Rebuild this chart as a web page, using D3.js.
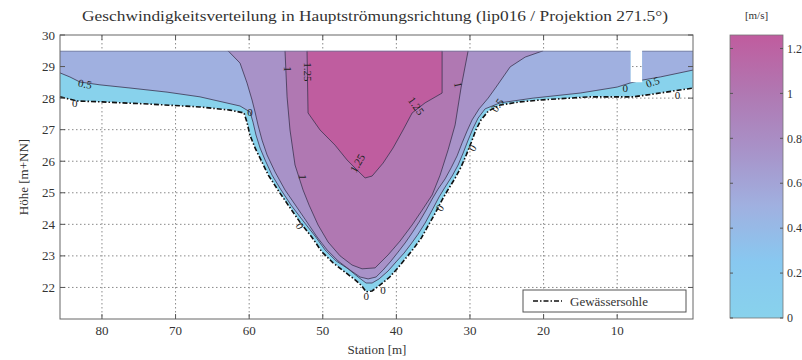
<!DOCTYPE html>
<html lang="de">
<head>
<meta charset="UTF-8">
<title>Geschwindigkeitsverteilung</title>
<style>
  body { margin: 0; background: #fff; }
  svg text { font-family: "Liberation Serif", "Times New Roman", serif; fill: #333; }
</style>
</head>
<body>
<svg id="chart" width="802" height="360" font-family="Liberation Serif, serif"></svg>
<script src="https://d3js.org/d3.v7.min.js"></script>
<script>
const title = "Geschwindigkeitsverteilung in Hauptströmungsrichtung (lip016 / Projektion 271.5°)";
const xTicks = [80, 70, 60, 50, 40, 30, 20, 10];
const yTicks = [22, 23, 24, 25, 26, 27, 28, 29, 30];
const waterLevel = 29.5;
const gapStations = [8.2, 6.6];
const gapBottom = 28.5;

// Gewässersohle [station, höhe]
const bed = [
  [85.7, 28.04], [83.4, 27.91], [80.0, 27.88], [73.5, 27.81], [66.7, 27.72], [62.6, 27.62],
  [60.7, 27.53], [60.3, 27.24], [59.9, 26.83], [59.2, 26.42], [58.4, 26.04], [57.4, 25.56],
  [56.1, 25.09], [54.7, 24.61], [53.1, 24.07], [51.5, 23.60], [50.1, 23.12], [48.6, 22.78],
  [47.0, 22.49], [45.6, 22.24], [44.7, 22.05], [44.1, 21.86], [43.3, 21.89], [42.2, 22.08],
  [40.9, 22.33], [39.8, 22.62], [38.7, 22.93], [37.6, 23.25], [36.6, 23.57], [35.7, 23.95],
  [34.7, 24.36], [33.8, 24.77], [33.0, 25.09], [32.0, 25.47], [31.2, 25.82], [30.5, 26.20],
  [29.8, 26.61], [29.2, 26.99], [28.5, 27.31], [27.5, 27.59], [25.9, 27.78], [23.2, 27.88],
  [20.5, 27.94], [13.7, 28.04], [7.8, 28.04], [4.2, 28.16], [-0.3, 28.32]
];

// Isolinien (0.5, 0.75, 1.0, 1.25 m/s)
const c050 = [
  [85.71, 28.80], [84.35, 28.67], [82.99, 28.51], [80.27, 28.42], [76.19, 28.32], [71.16, 28.19],
  [66.68, 28.04], [61.24, 27.75], [59.88, 27.56], [59.48, 27.24], [59.07, 26.83], [58.52, 26.42],
  [57.84, 26.04], [56.89, 25.56], [55.67, 25.09], [54.31, 24.61], [52.68, 24.11], [51.05, 23.63],
  [49.69, 23.19], [48.19, 22.84], [46.56, 22.59], [45.20, 22.33], [44.12, 22.14], [43.30, 22.14],
  [42.35, 22.27], [41.13, 22.52], [40.04, 22.81], [38.95, 23.09], [38.00, 23.38], [37.05, 23.69],
  [36.10, 24.04], [35.14, 24.45], [34.19, 24.87], [33.38, 25.18], [32.43, 25.53], [31.61, 25.88],
  [30.93, 26.26], [30.25, 26.67], [29.57, 27.05], [28.89, 27.37], [27.94, 27.66], [25.90, 27.85],
  [21.42, 28.00], [15.03, 28.16], [10.00, 28.35], [8.23, 28.48], [6.60, 28.57], [4.15, 28.67],
  [-0.33, 28.89]
];
const c075 = [
  [62.87, 29.50], [61.24, 29.11], [60.29, 28.48], [59.61, 27.94], [59.20, 27.56], [58.80, 27.15],
  [58.25, 26.67], [57.57, 26.20], [56.48, 25.66], [55.13, 25.09], [53.63, 24.58], [52.14, 24.07],
  [50.78, 23.60], [49.42, 23.19], [47.92, 22.84], [46.29, 22.55], [44.93, 22.33], [43.84, 22.27],
  [42.76, 22.33], [41.81, 22.55], [40.72, 22.84], [39.77, 23.12], [38.81, 23.41], [37.86, 23.73],
  [36.91, 24.07], [35.96, 24.45], [35.14, 24.80], [34.33, 25.12], [33.38, 25.44], [32.56, 25.79],
  [31.75, 26.17], [31.07, 26.58], [30.39, 26.96], [29.71, 27.31], [28.76, 27.66], [27.53, 28.00],
  [26.45, 28.35], [24.54, 28.99], [22.50, 29.30], [20.06, 29.50]
];
const c100 = [
  [55.13, 29.50], [54.85, 28.04], [54.45, 26.99], [53.77, 25.88], [52.68, 25.09], [51.86, 24.61],
  [50.64, 23.98], [49.28, 23.44], [47.65, 23.00], [46.02, 22.71], [44.66, 22.59], [42.89, 22.62],
  [41.13, 23.03], [39.50, 23.47], [37.86, 23.98], [36.50, 24.45], [35.14, 24.93], [34.06, 25.56],
  [32.97, 26.36], [32.02, 27.15], [31.20, 28.35], [30.25, 29.50]
];
const c125 = [
  [52.14, 29.50], [52.00, 27.53], [50.37, 26.99], [48.33, 26.51], [46.70, 26.04], [45.34, 25.72],
  [44.25, 25.47], [43.30, 25.53], [41.81, 25.94], [40.45, 26.42], [39.09, 26.99], [37.86, 27.53],
  [36.10, 27.85], [33.79, 28.16], [33.79, 29.50]
];

const levels = [0, 0.5, 0.75, 1.0, 1.25];
const contours = [c050, c075, c100, c125];

// Farbskala
const colorValues = [0, 0.25, 0.5, 0.75, 1.0, 1.26];
const colorHex = ["#88d2ec", "#88c8f0", "#a0b0e0", "#a892c8", "#b078b2", "#c05c9e"];
const cbarTicks = [0, 0.2, 0.4, 0.6, 0.8, 1, 1.2];
const cbarMax = 1.26;

// Beschriftungen der Isolinien: [text, station, höhe, winkel]
const contourLabels = [
  ["0.5", 82.3, 28.45, 10], ["0", 83.7, 27.85, 0],
  ["1", 54.7, 28.92, 90], ["1.25", 52.0, 28.83, 90], ["1", 52.7, 25.5, 90],
  ["1.25", 45.3, 25.94, -60], ["1.25", 37.3, 27.75, 55], ["1", 31.6, 28.42, 80],
  ["0.5", 26.3, 27.78, -55], ["0", 8.9, 28.32, 0], ["0.5", 5.2, 28.51, -20], ["0", 1.8, 28.1, 0],
  ["0", 59.9, 27.56, 0], ["0", 53.1, 23.95, 60], ["0", 44.1, 21.73, 0], ["0", 41.8, 21.92, 0],
  ["0", 34.1, 24.52, -60], ["0", 29.7, 26.42, -60]
];

const svg = d3.select("#chart");
const margin = { left: 60, right: 693, top: 35, bottom: 319 };

const x = d3.scaleLinear().domain([85.7, -0.3]).range([margin.left, margin.right]);
const y = d3.scaleLinear().domain([21, 30]).range([margin.bottom, margin.top]);
const color = d3.scaleLinear().domain(colorValues).range(colorHex);

const line = d3.line().x(d => x(d[0])).y(d => y(d[1]));

// Gitter
const grid = svg.append("g").attr("stroke", "#8a8a8a").attr("stroke-dasharray", "1.5,2.5").attr("stroke-width", 1);
grid.selectAll(".gx").data(xTicks).enter().append("line")
  .attr("x1", d => x(d)).attr("x2", d => x(d)).attr("y1", margin.top).attr("y2", margin.bottom);
grid.selectAll(".gy").data(yTicks.filter(d => d < 30)).enter().append("line")
  .attr("y1", d => y(d)).attr("y2", d => y(d)).attr("x1", margin.left).attr("x2", margin.right);

// Nasser Querschnitt als Clip
const wetted = bed.concat([[bed[bed.length - 1][0], waterLevel], [bed[0][0], waterLevel]]);
const gapRect = [[gapStations[0], waterLevel], [gapStations[1], waterLevel], [gapStations[1], gapBottom], [gapStations[0], gapBottom]];
svg.append("clipPath").attr("id", "wet")
  .append("path")
  .attr("clip-rule", "evenodd")
  .attr("d", line(wetted) + "Z" + line(gapRect) + "Z");

const fills = svg.append("g").attr("clip-path", "url(#wet)");
fills.append("path").attr("d", line(wetted) + "Z").attr("fill", color(levels[0]));

contours.forEach((c, i) => {
  const poly = c.concat([[c[c.length - 1][0], waterLevel], [c[0][0], waterLevel]]);
  fills.append("path").attr("d", line(poly) + "Z").attr("fill", color(levels[i + 1]));
});
contours.forEach(c => {
  fills.append("path").attr("d", line(c)).attr("fill", "none")
    .attr("stroke", "#3c3350").attr("stroke-width", 0.8);
});
// Wasserspiegel-Kante
fills.append("path").attr("d", line([[bed[0][0], waterLevel], [bed[bed.length - 1][0], waterLevel]]))
  .attr("stroke", "#6a7090").attr("stroke-width", 1.2);

// Sohle
svg.append("path").attr("d", line(bed)).attr("fill", "none")
  .attr("stroke", "#111").attr("stroke-width", 1.6).attr("stroke-dasharray", "5,2,1.5,2");

// Beschriftungen der Isolinien
svg.append("g").selectAll("text").data(contourLabels).enter().append("text")
  .attr("transform", d => `translate(${x(d[1])},${y(d[2])}) rotate(${d[3]})`)
  .attr("text-anchor", "middle").attr("dy", "0.35em")
  .style("font-size", "11px").style("fill", "#222")
  .text(d => d[0]);

// Rahmen und Ticks
svg.append("rect").attr("x", margin.left).attr("y", margin.top)
  .attr("width", margin.right - margin.left).attr("height", margin.bottom - margin.top)
  .attr("fill", "none").attr("stroke", "#666").attr("stroke-width", 1);

const ticks = svg.append("g").attr("stroke", "#555").attr("stroke-width", 1);
xTicks.forEach(t => {
  ticks.append("line").attr("x1", x(t)).attr("x2", x(t)).attr("y1", margin.bottom).attr("y2", margin.bottom - 5);
  ticks.append("line").attr("x1", x(t)).attr("x2", x(t)).attr("y1", margin.top).attr("y2", margin.top + 5);
});
yTicks.forEach(t => {
  ticks.append("line").attr("y1", y(t)).attr("y2", y(t)).attr("x1", margin.left).attr("x2", margin.left + 5);
  ticks.append("line").attr("y1", y(t)).attr("y2", y(t)).attr("x1", margin.right).attr("x2", margin.right - 5);
});

svg.append("g").selectAll("text").data(xTicks).enter().append("text")
  .attr("x", d => x(d)).attr("y", margin.bottom + 16)
  .attr("text-anchor", "middle").style("font-size", "13px").text(d => d);
svg.append("g").selectAll("text").data(yTicks).enter().append("text")
  .attr("x", margin.left - 5).attr("y", d => y(d)).attr("dy", "0.35em")
  .attr("text-anchor", "end").style("font-size", "13px").text(d => d);

svg.append("text").attr("x", 377).attr("y", 354).attr("text-anchor", "middle")
  .style("font-size", "13px").text("Station [m]");
svg.append("text").attr("transform", "translate(28,177) rotate(-90)").attr("text-anchor", "middle")
  .style("font-size", "13px").text("Höhe [m+NN]");
svg.append("text").attr("x", 375).attr("y", 21).attr("text-anchor", "middle")
  .attr("textLength", 586).attr("lengthAdjust", "spacingAndGlyphs")
  .style("font-size", "14px").text(title);

// Legende
const lg = svg.append("g");
lg.append("rect").attr("x", 523).attr("y", 290).attr("width", 163).attr("height", 22)
  .attr("fill", "#fff").attr("stroke", "#555");
lg.append("line").attr("x1", 533).attr("x2", 562).attr("y1", 301).attr("y2", 301)
  .attr("stroke", "#111").attr("stroke-width", 1.6).attr("stroke-dasharray", "5,2,1.5,2");
lg.append("text").attr("x", 570).attr("y", 305.5).style("font-size", "13px").text("Gewässersohle");

// Farbbalken
const cb = { x: 730, w: 53 };
const cy = d3.scaleLinear().domain([0, cbarMax]).range([margin.bottom - 1, margin.top]);
const grad = svg.append("defs").append("linearGradient").attr("id", "cgrad")
  .attr("gradientUnits", "userSpaceOnUse")
  .attr("x1", 0).attr("x2", 0).attr("y1", cy(0)).attr("y2", cy(cbarMax));
colorValues.forEach((v, i) => {
  grad.append("stop").attr("offset", v / cbarMax).attr("stop-color", colorHex[i]);
});
svg.append("rect").attr("x", cb.x).attr("y", cy(cbarMax)).attr("width", cb.w)
  .attr("height", cy(0) - cy(cbarMax)).attr("fill", "url(#cgrad)")
  .attr("stroke", "#777").attr("stroke-width", 0.8);
cbarTicks.forEach(t => {
  svg.append("line").attr("x1", cb.x).attr("x2", cb.x + 3).attr("y1", cy(t)).attr("y2", cy(t)).attr("stroke", "#555");
  svg.append("line").attr("x1", cb.x + cb.w).attr("x2", cb.x + cb.w - 3).attr("y1", cy(t)).attr("y2", cy(t)).attr("stroke", "#555");
});
svg.append("g").selectAll("text").data(cbarTicks).enter().append("text")
  .attr("x", cb.x + cb.w + 4).attr("y", d => cy(d)).attr("dy", "0.35em")
  .style("font-size", "12px").text(d => d);
svg.append("text").attr("x", cb.x + cb.w / 2).attr("y", 19).attr("text-anchor", "middle")
  .style("font-size", "11px").text("[m/s]");
</script>
</body>
</html>
